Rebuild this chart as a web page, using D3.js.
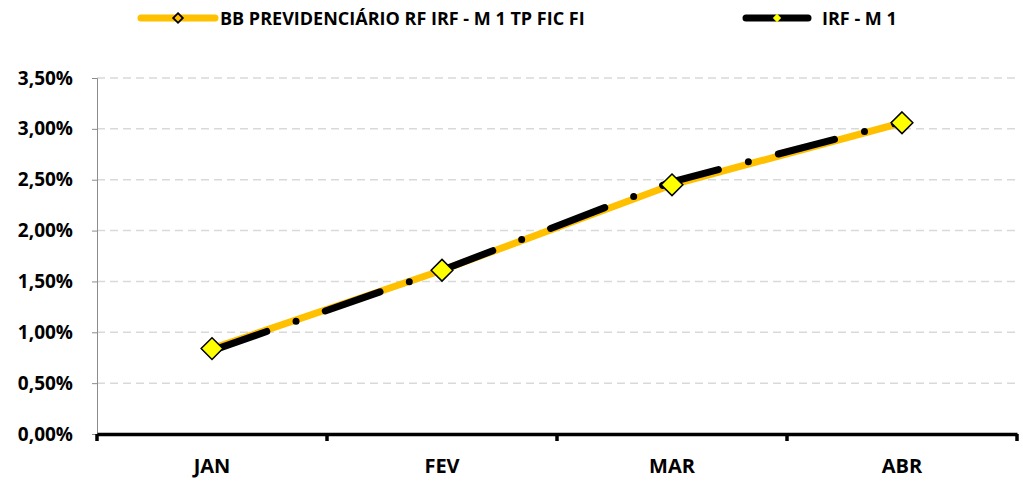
<!DOCTYPE html>
<html lang="pt">
<head>
<meta charset="UTF-8">
<title>BB Previdenciário RF IRF-M 1 x IRF-M 1</title>
<script src="https://d3js.org/d3.v7.min.js"></script>
<style>
    body {
        margin: 0;
        background: #fff;
        font-family: 'Open Sans', 'Liberation Sans', sans-serif;
    }
    #chart {
        width: 1023px;
        height: 485px;
    }
</style>
</head>
<body>
<div id="chart"></div>
<script>
// dados
const months = ["JAN", "FEV", "MAR", "ABR"];
const fundo = [0.84, 1.61, 2.45, 3.06];
const indice = [0.82, 1.61, 2.48, 3.07];
const yTicks = [0, 0.5, 1, 1.5, 2, 2.5, 3, 3.5];
const seriesNames = ["BB PREVIDENCIÁRIO RF IRF - M 1 TP FIC FI", "IRF - M 1"];

const width = 1023;
const height = 485;
const margin = { top: 78, right: 6, bottom: 51, left: 97 };

const gold = "#FFC000";
const yellow = "#FFFF00";

const svg = d3.select("#chart")
    .append("svg")
    .attr("width", width)
    .attr("height", height);

const x = d3.scaleBand()
    .domain(months)
    .range([margin.left, width - margin.right]);

const y = d3.scaleLinear()
    .domain([0, 3.5])
    .range([height - margin.bottom, margin.top]);

const fmt = d => d.toFixed(2).replace(".", ",") + "%";

// linhas de grade
svg.append("g")
    .selectAll("line")
    .data(yTicks.filter(d => d > 0))
    .join("line")
    .attr("x1", margin.left)
    .attr("x2", width - margin.right)
    .attr("y1", d => y(d))
    .attr("y2", d => y(d))
    .attr("stroke", "#d9d9d9")
    .attr("stroke-width", 1.5)
    .attr("stroke-dasharray", "8,5");

// eixo y
const yAxis = svg.append("g")
    .attr("transform", `translate(${margin.left},0)`)
    .call(d3.axisLeft(y).tickValues(yTicks).tickFormat(fmt).tickSize(5).tickPadding(19));
yAxis.select(".domain").attr("stroke", "#8c8c8c");
yAxis.selectAll(".tick line").attr("stroke", "#8c8c8c");
yAxis.selectAll("text")
    .attr("fill", "#000")
    .style("font-size", "19px")
    .style("font-weight", "bold")
    .style("font-family", "'Open Sans', sans-serif");

// eixo x
const xAxis = svg.append("g")
    .attr("transform", `translate(0,${y(0)})`)
    .call(d3.axisBottom(x).tickSize(0).tickPadding(25));
xAxis.select(".domain").attr("stroke", "#000").attr("stroke-width", 3.5);
xAxis.selectAll("text")
    .attr("fill", "#000")
    .style("font-size", "20px")
    .style("font-weight", "bold")
    .style("font-family", "'Open Sans', sans-serif");

// marcas entre categorias
const boundaries = months.map(m => x(m)).concat([x(months[months.length - 1]) + x.bandwidth()]);
svg.append("g")
    .selectAll("line")
    .data(boundaries)
    .join("line")
    .attr("x1", d => d)
    .attr("x2", d => d)
    .attr("y1", y(0))
    .attr("y2", y(0) + 7)
    .attr("stroke", "#000")
    .attr("stroke-width", 3.5);

const cx = m => x(m) + x.bandwidth() / 2;

const line = d3.line()
    .x((d, i) => cx(months[i]))
    .y(d => y(d));

// série do fundo
svg.append("path")
    .datum(fundo)
    .attr("fill", "none")
    .attr("stroke", gold)
    .attr("stroke-width", 7)
    .attr("d", line);

// série do índice
svg.append("path")
    .datum(indice)
    .attr("fill", "none")
    .attr("stroke", "#000")
    .attr("stroke-width", 7)
    .attr("stroke-linecap", "round")
    .attr("stroke-dasharray", "58,31,0,31")
    .attr("d", line);

const diamond = d3.symbol().type(d3.symbolDiamond2);

// marcadores
svg.append("g")
    .selectAll("path")
    .data(indice)
    .join("path")
    .attr("transform", (d, i) => `translate(${cx(months[i])},${y(d)})`)
    .attr("d", diamond.size(50)())
    .attr("fill", yellow);

svg.append("g")
    .selectAll("path")
    .data(fundo)
    .join("path")
    .attr("transform", (d, i) => `translate(${cx(months[i])},${y(d)})`)
    .attr("d", diamond.size(300)())
    .attr("fill", yellow)
    .attr("stroke", "#000")
    .attr("stroke-width", 1.5);

// legenda
const legend = [
    { name: seriesNames[0], x1: 141, x2: 215, color: gold, mark: "#FFC000", markStroke: "#000", tx: 220 },
    { name: seriesNames[1], x1: 746, x2: 808, color: "#000", mark: yellow, markStroke: null, tx: 822 }
];
const lg = svg.append("g")
    .selectAll("g")
    .data(legend)
    .join("g");
lg.append("line")
    .attr("x1", d => d.x1)
    .attr("x2", d => d.x2)
    .attr("y1", 18)
    .attr("y2", 18)
    .attr("stroke", d => d.color)
    .attr("stroke-width", 7)
    .attr("stroke-linecap", "round");
lg.append("path")
    .attr("transform", d => `translate(${(d.x1 + d.x2) / 2},18)`)
    .attr("d", (d, i) => diamond.size(i === 0 ? 60 : 45)())
    .attr("fill", d => d.mark)
    .attr("stroke", d => d.markStroke)
    .attr("stroke-width", 1.8);
lg.append("text")
    .attr("x", d => d.tx)
    .attr("y", 25)
    .text(d => d.name)
    .style("font-size", "18px")
    .style("font-weight", "bold")
    .style("font-family", "'Open Sans', sans-serif");
</script>
</body>
</html>
